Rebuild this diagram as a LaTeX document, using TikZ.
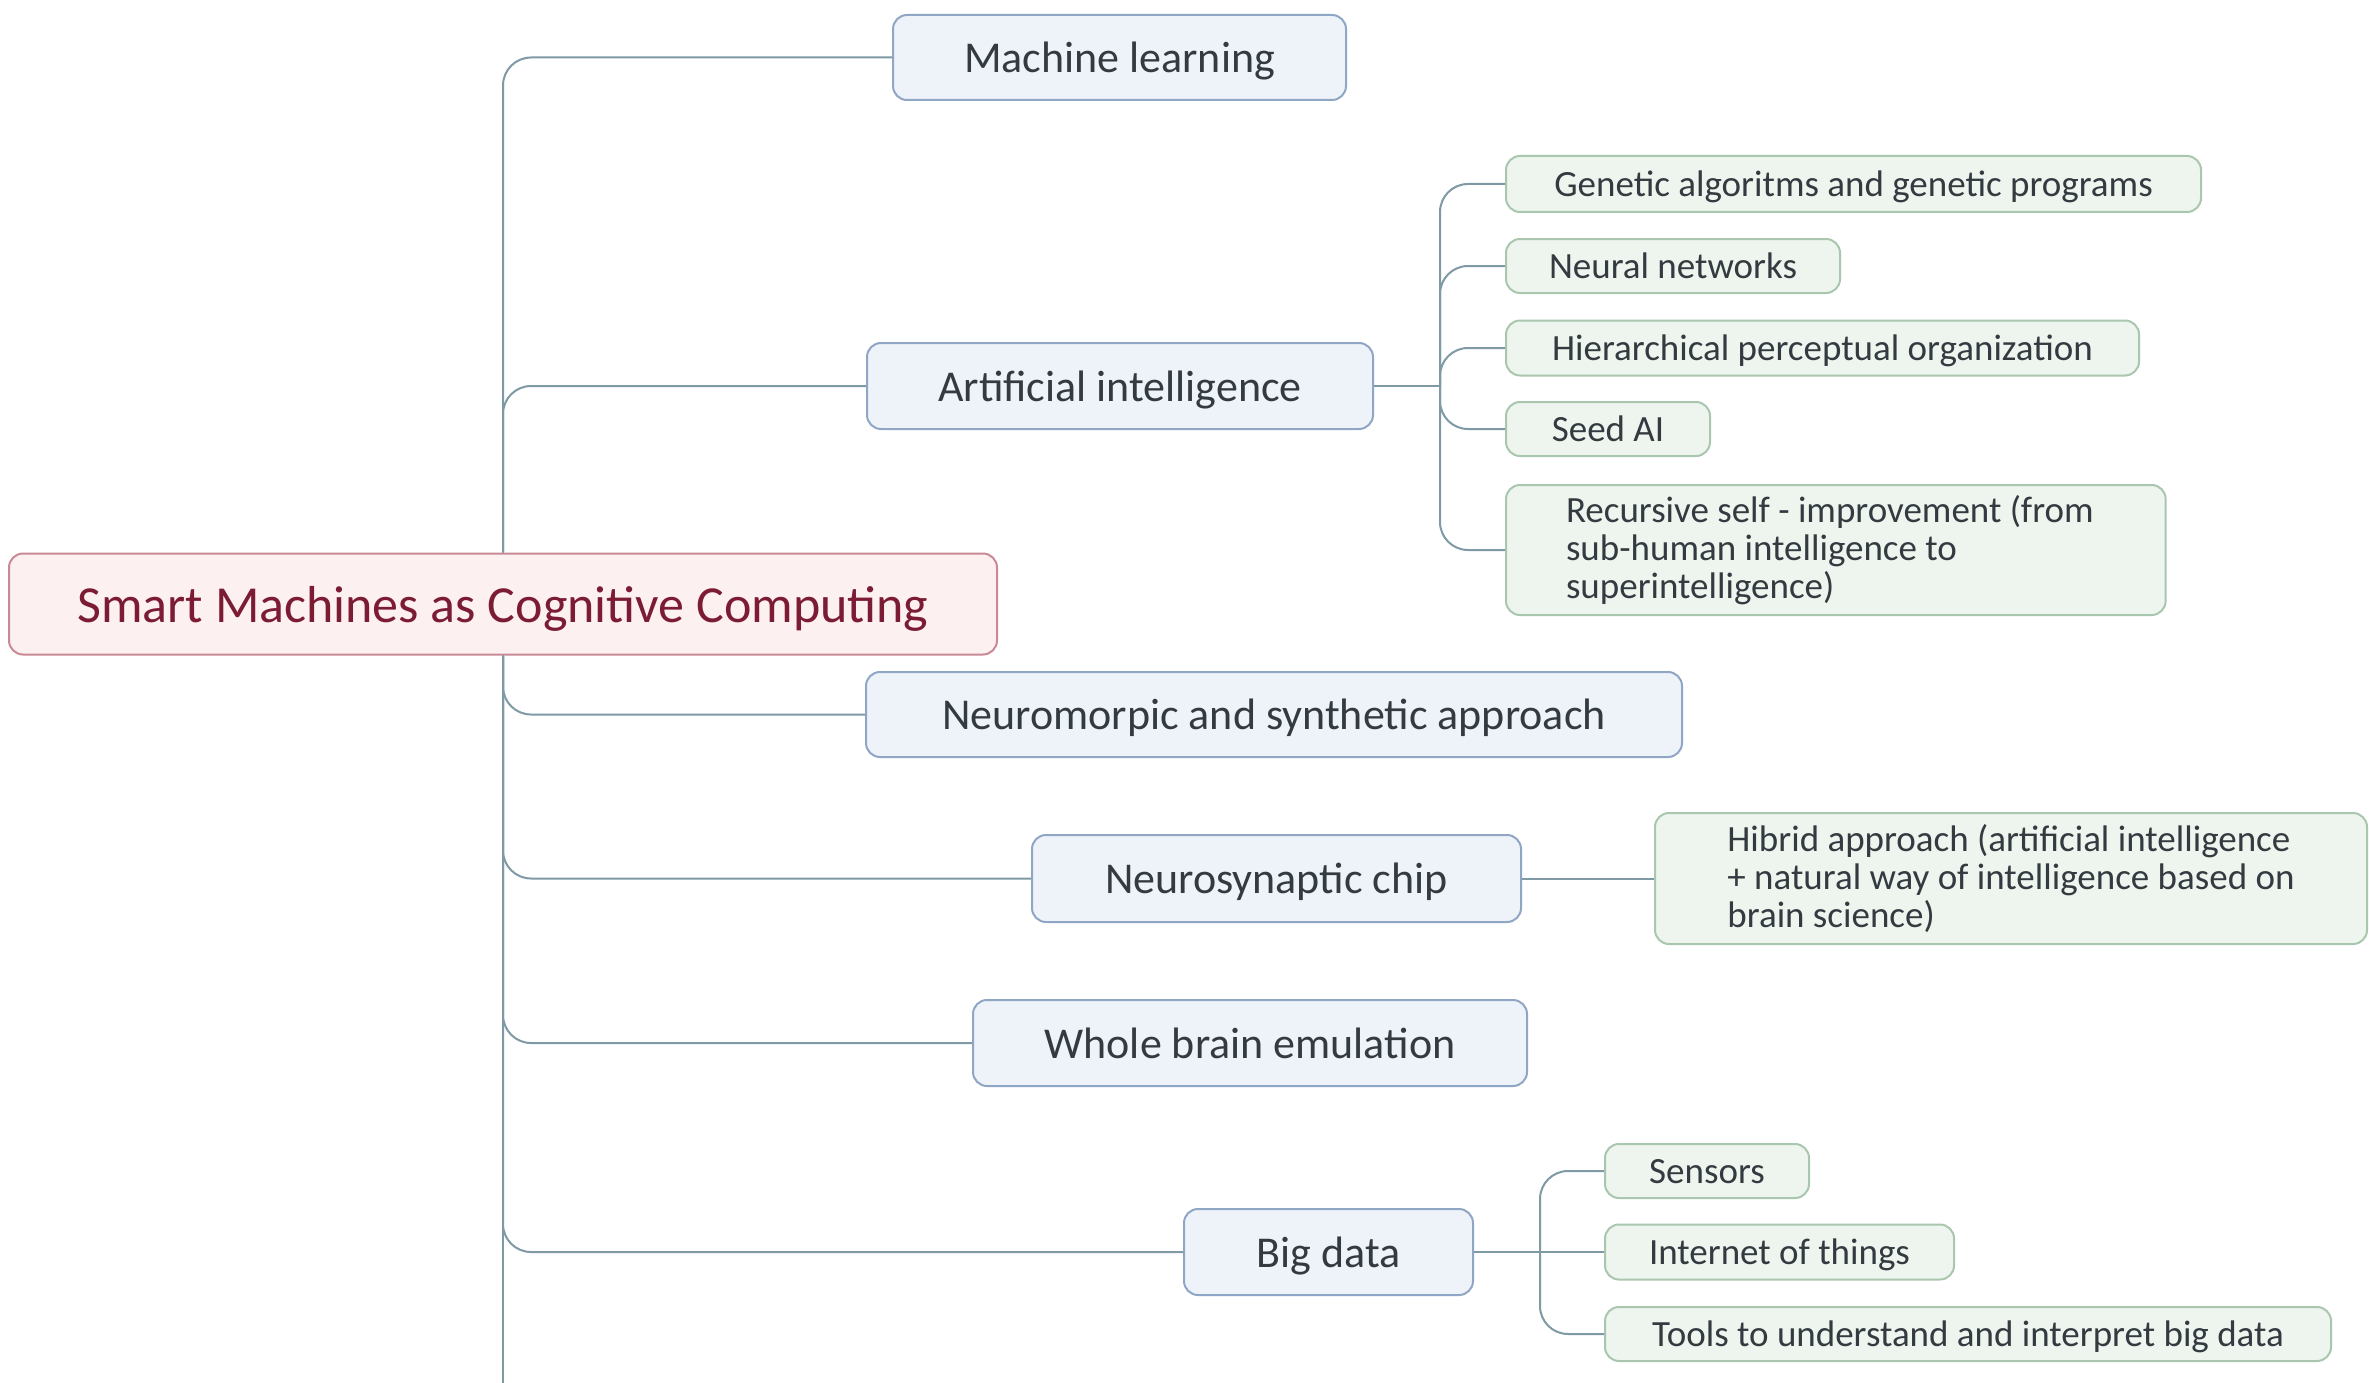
\documentclass[tikz,border=0pt]{standalone}
\usepackage{fontspec}
\setmainfont{Carlito}
\definecolor{bluefill}{HTML}{EEF3FA}
\definecolor{bluebd}{HTML}{8FA6C4}
\definecolor{greenfill}{HTML}{EEF5EF}
\definecolor{greenbd}{HTML}{A9C7AE}
\definecolor{rootfill}{HTML}{FDF0F1}
\definecolor{rootbd}{HTML}{C98A96}
\definecolor{roottxt}{HTML}{7B1C34}
\definecolor{txt}{HTML}{333B40}
\definecolor{conncol}{HTML}{7F9AA5}
\begin{document}
\begin{tikzpicture}[x=1pt,y=-1pt,
  base/.style={rounded corners=14, line width=2, inner sep=0, align=center},
  rootbox/.style={base, draw=rootbd, fill=rootfill, text=roottxt, font=\fontsize{52}{62}\selectfont, text depth=0pt},
  bluebox/.style={base, draw=bluebd, fill=bluefill, text=txt, font=\fontsize{44}{53}\selectfont, text depth=0pt},
  greenmulti/.style={base, draw=greenbd, fill=greenfill, text=txt, font=\fontsize{37}{38}\selectfont, anchor=west},
  greenbox/.style={greenmulti, text depth=0pt},
  conn/.style={draw=conncol, line width=2, rounded corners=28}
]
\useasboundingbox (0,0) rectangle (2369,1383);
\fill[white] (0,0) rectangle (2369,1383);

\node[rootbox, minimum width=988, minimum height=101] (root) at (503,604) {Smart Machines as Cognitive Computing};

\node[bluebox, minimum width=453, minimum height=85] (ml) at (1119.5,57.5) {Machine learning};
\node[bluebox, minimum width=506, minimum height=86] (ai) at (1120,386) {Artificial intelligence};
\node[bluebox, minimum width=816, minimum height=85] (neu) at (1274,714.5) {Neuromorpic and synthetic approach};
\node[bluebox, minimum width=489, minimum height=87] (chip) at (1276.5,878.5) {Neurosynaptic chip};
\node[bluebox, minimum width=554, minimum height=86] (wbe) at (1250,1043) {Whole brain emulation};
\node[bluebox, minimum width=289, minimum height=86] (bd) at (1328.5,1252) {Big data};

\node[greenbox, minimum width=695, minimum height=56] (gen) at (1505,184) {Genetic algoritms and genetic programs};
\node[greenbox, minimum width=334, minimum height=54] (nn) at (1505,266) {Neural networks};
\node[greenbox, minimum width=633, minimum height=55] (hpo) at (1505,348) {Hierarchical perceptual organization};
\node[greenbox, minimum width=204, minimum height=54] (seed) at (1505,429) {Seed AI};
\node[greenmulti, inner xsep=60, align=left, minimum width=659, minimum height=130] (rec) at (1505,550) {Recursive self - improvement (from\hspace*{12pt}\\sub-human intelligence to\\superintelligence)};
\node[greenmulti, inner xsep=61, align=left, minimum width=712, minimum height=131] (hib) at (1654,878.5) {Hibrid approach (artificial intelligence\\+ natural way of intelligence based on\hspace*{22pt}\\brain science)};
\node[greenbox, minimum width=204, minimum height=54] (sen) at (1604,1171) {Sensors};
\node[greenbox, minimum width=349, minimum height=55] (iot) at (1604,1252) {Internet of things};
\node[greenbox, minimum width=726, minimum height=54] (tools) at (1604,1334) {Tools to understand and interpret big data};

\coordinate (bot) at (503,1383);
\coordinate (aj) at (1440,386);
\coordinate (bj) at (1540,1252);

\draw[conn] (root.north) |- (ml.west);
\draw[conn] (root.north) |- (ai.west);
\draw[conn] (root.south) |- (neu.west);
\draw[conn] (root.south) |- (chip.west);
\draw[conn] (root.south) |- (wbe.west);
\draw[conn] (root.south) |- (bd.west);
\draw[conn] (root.south) -- (bot);

\draw[conn] (ai.east) -- (aj);
\draw[conn] (aj) |- (gen.west);
\draw[conn] (aj) |- (nn.west);
\draw[conn] (aj) |- (hpo.west);
\draw[conn] (aj) |- (seed.west);
\draw[conn] (aj) |- (rec.west);

\draw[conn] (chip.east) -- (hib.west);

\draw[conn] (bd.east) -- (bj);
\draw[conn] (bj) |- (sen.west);
\draw[conn] (bj) -- (iot.west);
\draw[conn] (bj) |- (tools.west);
\end{tikzpicture}
\end{document}
